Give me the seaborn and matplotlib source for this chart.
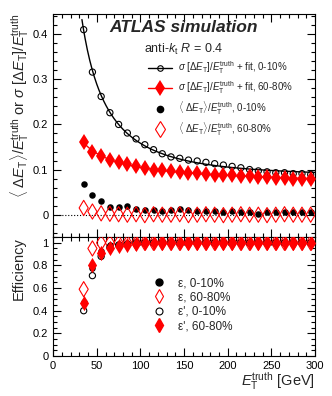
import numpy as np
import matplotlib
matplotlib.use('Agg')
import matplotlib.pyplot as plt
import seaborn as sns
from matplotlib.lines import Line2D
from matplotlib.ticker import MultipleLocator, FuncFormatter

# bin centres [GeV]
et = [35, 45, 55, 65, 75, 85, 95, 105, 115, 125, 135, 145, 155, 165,
      175, 185, 195, 205, 215, 225, 235, 245, 255, 265, 275, 285, 295]

# sigma[dET]/ET, 0-10% and 60-80%
sig_c0 = [0.410, 0.316, 0.262, 0.226, 0.200, 0.181, 0.168, 0.155, 0.144,
          0.135, 0.128, 0.125, 0.121, 0.119, 0.116, 0.113, 0.110, 0.107,
          0.104, 0.100, 0.097, 0.095, 0.093, 0.093, 0.091, 0.091, 0.089]
sig_p = [0.161, 0.139, 0.130, 0.122, 0.116, 0.112, 0.107, 0.104, 0.100,
         0.098, 0.096, 0.095, 0.093, 0.092, 0.090, 0.089, 0.088, 0.087,
         0.086, 0.085, 0.084, 0.083, 0.082, 0.081, 0.080, 0.079, 0.078]
sig_p_err = [0.004] * len(et)

# <dET>/ET
mean_c0 = [0.067, 0.044, 0.030, 0.017, 0.017, 0.020, 0.013, 0.011, 0.010,
           0.008, 0.010, 0.013, 0.011, 0.008, 0.009, 0.008, 0.007, 0.008,
           0.006, 0.007, 0.001, 0.005, 0.006, 0.007, 0.006, 0.007, 0.006]
mean_p = [0.015, 0.007, 0.003, 0.002, 0.001, 0.000, 0.001, -0.001, 0.001,
          0.000, 0.000, 0.001, -0.001, 0.000, 0.001, 0.000, -0.001, 0.000,
          0.001, 0.000, 0.000, -0.001, 0.000, 0.001, 0.000, 0.000, 0.000]

# efficiencies
eff_c0 = [0.48, 0.78, 0.93, 0.98, 0.99, 0.995] + [1.0] * 21
eff_p = [0.59, 0.95, 1.0, 1.0] + [1.0] * 23
effp_c0 = [0.40, 0.71, 0.88, 0.96, 0.98, 0.99] + [1.0] * 21
effp_p = [0.47, 0.80, 0.91, 0.95, 0.97, 0.985, 0.99] + [0.995] * 20

sns.set_theme(style='ticks')
plt.rcParams['font.family'] = ['Liberation Sans', 'DejaVu Sans']
plt.rcParams['mathtext.fontset'] = 'custom'
plt.rcParams['mathtext.rm'] = 'Liberation Sans'
plt.rcParams['mathtext.it'] = 'Liberation Sans:italic'
plt.rcParams['mathtext.bf'] = 'Liberation Sans:bold'


def resolution_fit(x, s):
    # sigma^2 = a + b/x + c/x^2, least squares on the points
    x = np.asarray(x, float)
    A = np.vstack([np.ones_like(x), 1 / x, 1 / x**2]).T
    coef = np.linalg.lstsq(A, np.asarray(s)**2, rcond=None)[0]
    xf = np.linspace(33, 300, 300)
    yf = np.sqrt(np.clip(coef[0] + coef[1] / xf + coef[2] / xf**2, 0, None))
    return xf, yf


fig = plt.figure(figsize=(3.32, 3.96), dpi=100)
ax1 = fig.add_axes([0.160, 0.402, 0.789, 0.563])
ax2 = fig.add_axes([0.160, 0.101, 0.789, 0.301])

# --- top panel
ax1.axhline(0, color='black', ls=':', lw=0.8)
xf, yf = resolution_fit(et, sig_c0)
sns.lineplot(x=xf, y=yf, color='black', lw=1.0, ax=ax1)
sns.scatterplot(x=et, y=sig_c0, marker='o', s=20, facecolor='none',
                edgecolor='black', linewidth=0.8, ax=ax1, zorder=3)
xf, yf = resolution_fit(et, sig_p)
sns.lineplot(x=xf, y=yf, color='red', lw=1.0, ax=ax1)
err = ax1.errorbar(et, sig_p, yerr=sig_p_err, fmt='d', color='red', ms=8,
                   mew=0, elinewidth=1.0, capsize=0, zorder=3)
sns.scatterplot(x=et, y=mean_c0, marker='o', s=22, color='black',
                edgecolor='black', linewidth=0, ax=ax1, zorder=3)
sns.scatterplot(x=et, y=mean_p, marker='d', s=60, facecolor='none',
                edgecolor='red', linewidth=0.8, ax=ax1, zorder=4)

ax1.set_xlim(0, 300)
ax1.set_ylim(-0.049, 0.445)
ax1.yaxis.set_major_locator(MultipleLocator(0.1))
ax1.yaxis.set_minor_locator(MultipleLocator(0.02))
ax1.set_ylabel(r'$\langle\ \Delta E_{\rm T}\rangle/E_{\rm T}^{\rm truth}$ or '
               r'$\sigma\ [\Delta E_{\rm T}]/E_{\rm T}^{\rm truth}$',
               fontsize=10.5, loc='top')
ax1.yaxis.set_label_coords(-0.085, 1.0)
ax1.tick_params(labelbottom=False)

h_line_c0 = Line2D([], [], color='black', lw=1.0, marker='o', ms=4,
                   mfc='none', mec='black', mew=0.8)
h_line_p = Line2D([], [], color='red', lw=1.0)
h_mean_c0 = Line2D([], [], ls='none', marker='o', ms=4.5, color='black')
h_mean_p = Line2D([], [], ls='none', marker='d', ms=8, mfc='none',
                  mec='red', mew=0.8)
ax1.legend([h_line_c0, (h_line_p, err), h_mean_c0, h_mean_p],
           [r'$\sigma\ [\Delta E_{\rm T}]/E_{\rm T}^{\rm truth}$ + fit, 0-10%',
            r'$\sigma\ [\Delta E_{\rm T}]/E_{\rm T}^{\rm truth}$ + fit, 60-80%',
            r'$\langle\ \Delta E_{\rm T}\rangle/E_{\rm T}^{\rm truth}$, 0-10%',
            r'$\langle\ \Delta E_{\rm T}\rangle/E_{\rm T}^{\rm truth}$, 60-80%'],
           loc='upper left', bbox_to_anchor=(0.446, 0.850),
           bbox_transform=fig.transFigure, frameon=False, fontsize=7,
           handlelength=2.5, handletextpad=0.6, labelspacing=0.35,
           borderpad=0, borderaxespad=0)

fig.text(0.554, 0.919, 'ATLAS simulation', fontsize=12.5, fontweight='bold',
         style='italic', ha='center', va='baseline')
fig.text(0.553, 0.866, r'anti-$k_{\rm t}$ $R$ = 0.4', fontsize=9,
         ha='center', va='baseline')

# --- efficiency panel
sns.scatterplot(x=et, y=eff_c0, marker='o', s=22, color='black',
                edgecolor='black', linewidth=0, ax=ax2, zorder=3)
sns.scatterplot(x=et, y=eff_p, marker='d', s=60, facecolor='none',
                edgecolor='red', linewidth=0.8, ax=ax2, zorder=3)
sns.scatterplot(x=et, y=effp_c0, marker='o', s=20, facecolor='none',
                edgecolor='black', linewidth=0.8, ax=ax2, zorder=3)
sns.scatterplot(x=et, y=effp_p, marker='d', s=60, color='red',
                edgecolor='red', linewidth=0, ax=ax2, zorder=4)

ax2.set_xlim(0, 300)
ax2.set_ylim(0, 1.053)
ax2.xaxis.set_major_locator(MultipleLocator(50))
ax2.yaxis.set_major_locator(MultipleLocator(0.2))
ax2.yaxis.set_minor_locator(MultipleLocator(0.05))
ax2.set_ylabel('Efficiency', fontsize=10.5, loc='top')
ax2.yaxis.set_label_coords(-0.105, 1.0)
ax2.set_xlabel(r'$E_{\rm T}^{\rm truth}$ [GeV]', fontsize=10.5, loc='right')
ax2.xaxis.set_label_coords(1.0, -0.12)

ax2.legend([Line2D([], [], ls='none', marker='o', ms=5, color='black'),
            Line2D([], [], ls='none', marker='d', ms=7, mfc='none',
                   mec='red', mew=0.8),
            Line2D([], [], ls='none', marker='o', ms=5, mfc='none',
                   mec='black', mew=0.8),
            Line2D([], [], ls='none', marker='d', ms=7, color='red')],
           ['ε, 0-10%', 'ε, 60-80%', "ε', 0-10%", "ε', 60-80%"],
           loc='upper left', bbox_to_anchor=(0.461, 0.300),
           bbox_transform=fig.transFigure, frameon=False, fontsize=8.5,
           handlelength=1.0, handletextpad=1.1, labelspacing=0.2,
           borderpad=0, borderaxespad=0)

fmt = FuncFormatter(lambda v, p: '%g' % round(v, 3))
for ax in (ax1, ax2):
    ax.xaxis.set_minor_locator(MultipleLocator(10))
    ax.yaxis.set_major_formatter(fmt)
    ax.tick_params(which='both', direction='in', top=True, right=True,
                   labelsize=8, width=0.8, colors='black')
    ax.tick_params(which='major', length=6)
    ax.tick_params(which='minor', length=3)
    for sp in ax.spines.values():
        sp.set_linewidth(0.8)
        sp.set_color('black')

fig.savefig('out.png', dpi=100)
